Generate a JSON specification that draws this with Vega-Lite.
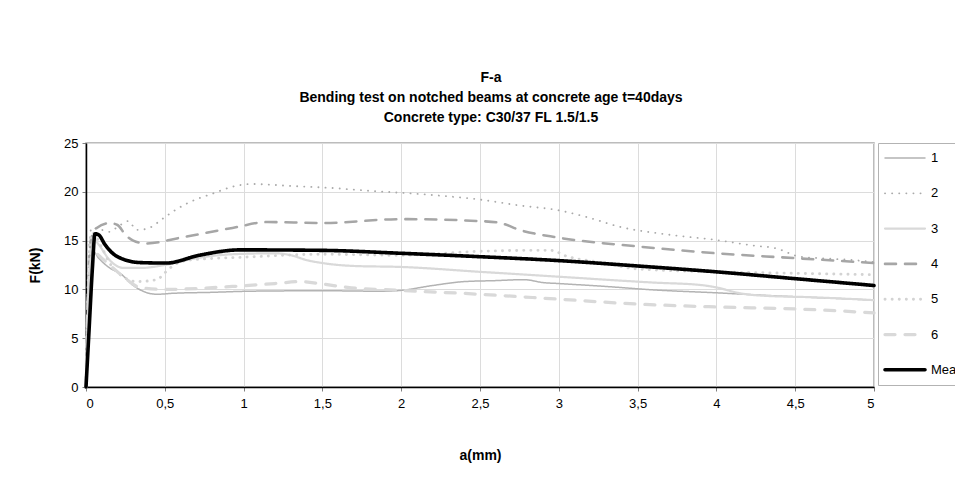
{
  "$schema": "https://vega.github.io/schema/vega-lite/v6.json",
  "width": 788,
  "height": 244,
  "autosize": {"type": "none"},
  "padding": {"left": 86, "top": 143, "right": 81, "bottom": 100},
  "background": "white",
  "title": {
    "text": ["F-a", "Bending test on notched beams at concrete age t=40days", "Concrete type: C30/37 FL 1.5/1.5"],
    "font": "Liberation Sans", "fontSize": 14, "fontWeight": "bold", "color": "black",
    "lineHeight": 20, "anchor": "middle", "frame": "group", "offset": 12, "dx": 11
  },
  "config": {
    "view": {"stroke": "#a6a6a6", "strokeWidth": 1.5},
    "font": "Liberation Sans",
    "axis": {
      "labelFont": "Liberation Sans", "labelFontSize": 13, "labelColor": "black",
      "titleFont": "Liberation Sans", "titleFontSize": 14, "titleFontWeight": "bold", "titleColor": "black",
      "gridColor": "#dcdcdc", "gridWidth": 1, "domainColor": "black", "domainWidth": 1.5,
      "tickColor": "#808080", "tickSize": 4
    }
  },
  "data": {
    "values": [
      {"s": "1", "a": 0, "F": 0}, {"s": "1", "a": 0.01, "F": 6}, {"s": "1", "a": 0.025, "F": 12}, {"s": "1", "a": 0.04, "F": 14}, {"s": "1", "a": 0.08, "F": 13.2}, {"s": "1", "a": 0.15, "F": 12.2}, {"s": "1", "a": 0.22, "F": 11.6}, {"s": "1", "a": 0.3, "F": 10.4}, {"s": "1", "a": 0.38, "F": 9.7}, {"s": "1", "a": 0.45, "F": 9.5}, {"s": "1", "a": 0.55, "F": 9.6}, {"s": "1", "a": 0.8, "F": 9.7}, {"s": "1", "a": 1.0, "F": 9.8}, {"s": "1", "a": 1.3, "F": 9.85}, {"s": "1", "a": 1.6, "F": 9.85}, {"s": "1", "a": 1.9, "F": 9.8}, {"s": "1", "a": 2.0, "F": 9.9}, {"s": "1", "a": 2.2, "F": 10.4}, {"s": "1", "a": 2.4, "F": 10.8}, {"s": "1", "a": 2.6, "F": 10.9}, {"s": "1", "a": 2.78, "F": 11.0}, {"s": "1", "a": 2.9, "F": 10.7}, {"s": "1", "a": 3.0, "F": 10.6}, {"s": "1", "a": 3.3, "F": 10.3}, {"s": "1", "a": 3.6, "F": 9.95}, {"s": "1", "a": 4.0, "F": 9.65}, {"s": "1", "a": 4.3, "F": 9.4}, {"s": "1", "a": 4.5, "F": 9.25}, {"s": "1", "a": 4.8, "F": 9.05}, {"s": "1", "a": 5.0, "F": 8.9},

      {"s": "2", "a": 0, "F": 0}, {"s": "2", "a": 0.01, "F": 8}, {"s": "2", "a": 0.02, "F": 14}, {"s": "2", "a": 0.035, "F": 16.3}, {"s": "2", "a": 0.1, "F": 16.1}, {"s": "2", "a": 0.15, "F": 15.9}, {"s": "2", "a": 0.2, "F": 16.4}, {"s": "2", "a": 0.27, "F": 17.0}, {"s": "2", "a": 0.32, "F": 16.1}, {"s": "2", "a": 0.385, "F": 16.2}, {"s": "2", "a": 0.45, "F": 16.8}, {"s": "2", "a": 0.5, "F": 17.4}, {"s": "2", "a": 0.64, "F": 18.8}, {"s": "2", "a": 0.8, "F": 19.8}, {"s": "2", "a": 0.95, "F": 20.6}, {"s": "2", "a": 1.05, "F": 20.8}, {"s": "2", "a": 1.3, "F": 20.6}, {"s": "2", "a": 1.55, "F": 20.4}, {"s": "2", "a": 1.8, "F": 20.1}, {"s": "2", "a": 2.0, "F": 19.9}, {"s": "2", "a": 2.25, "F": 19.6}, {"s": "2", "a": 2.5, "F": 19.2}, {"s": "2", "a": 2.75, "F": 18.6}, {"s": "2", "a": 3.0, "F": 18.1}, {"s": "2", "a": 3.18, "F": 17.4}, {"s": "2", "a": 3.39, "F": 16.4}, {"s": "2", "a": 3.7, "F": 15.6}, {"s": "2", "a": 4.0, "F": 15.06}, {"s": "2", "a": 4.23, "F": 14.5}, {"s": "2", "a": 4.38, "F": 14.2}, {"s": "2", "a": 4.53, "F": 13.35}, {"s": "2", "a": 4.66, "F": 13.2}, {"s": "2", "a": 4.87, "F": 13.0}, {"s": "2", "a": 5.0, "F": 12.8},

      {"s": "3", "a": 0, "F": 0}, {"s": "3", "a": 0.01, "F": 7}, {"s": "3", "a": 0.025, "F": 13}, {"s": "3", "a": 0.04, "F": 15.3}, {"s": "3", "a": 0.08, "F": 14.6}, {"s": "3", "a": 0.15, "F": 13.0}, {"s": "3", "a": 0.24, "F": 12.2}, {"s": "3", "a": 0.35, "F": 12.2}, {"s": "3", "a": 0.5, "F": 12.5}, {"s": "3", "a": 0.7, "F": 13.2}, {"s": "3", "a": 0.93, "F": 13.6}, {"s": "3", "a": 1.2, "F": 13.7}, {"s": "3", "a": 1.3, "F": 13.5}, {"s": "3", "a": 1.4, "F": 13.0}, {"s": "3", "a": 1.5, "F": 12.7}, {"s": "3", "a": 1.7, "F": 12.4}, {"s": "3", "a": 2.0, "F": 12.3}, {"s": "3", "a": 2.5, "F": 11.8}, {"s": "3", "a": 3.0, "F": 11.3}, {"s": "3", "a": 3.39, "F": 10.9}, {"s": "3", "a": 3.6, "F": 10.7}, {"s": "3", "a": 3.9, "F": 10.45}, {"s": "3", "a": 4.0, "F": 10.2}, {"s": "3", "a": 4.15, "F": 9.6}, {"s": "3", "a": 4.3, "F": 9.35}, {"s": "3", "a": 4.6, "F": 9.2}, {"s": "3", "a": 5.0, "F": 8.9},

      {"s": "4", "a": 0, "F": 0}, {"s": "4", "a": 0.01, "F": 8}, {"s": "4", "a": 0.03, "F": 15}, {"s": "4", "a": 0.068, "F": 16.3}, {"s": "4", "a": 0.15, "F": 16.8}, {"s": "4", "a": 0.2, "F": 16.6}, {"s": "4", "a": 0.25, "F": 15.6}, {"s": "4", "a": 0.3, "F": 15.0}, {"s": "4", "a": 0.38, "F": 14.7}, {"s": "4", "a": 0.6, "F": 15.3}, {"s": "4", "a": 0.93, "F": 16.3}, {"s": "4", "a": 1.15, "F": 16.9}, {"s": "4", "a": 1.5, "F": 16.8}, {"s": "4", "a": 2.0, "F": 17.2}, {"s": "4", "a": 2.5, "F": 17.0}, {"s": "4", "a": 2.63, "F": 16.8}, {"s": "4", "a": 2.75, "F": 16.1}, {"s": "4", "a": 3.0, "F": 15.3}, {"s": "4", "a": 3.5, "F": 14.4}, {"s": "4", "a": 4.0, "F": 13.7}, {"s": "4", "a": 4.5, "F": 13.2}, {"s": "4", "a": 5.0, "F": 12.7},

      {"s": "5", "a": 0, "F": 0}, {"s": "5", "a": 0.01, "F": 8}, {"s": "5", "a": 0.02, "F": 14}, {"s": "5", "a": 0.04, "F": 15.8}, {"s": "5", "a": 0.1, "F": 14.3}, {"s": "5", "a": 0.15, "F": 12.7}, {"s": "5", "a": 0.235, "F": 11.3}, {"s": "5", "a": 0.32, "F": 10.8}, {"s": "5", "a": 0.45, "F": 11.0}, {"s": "5", "a": 0.5, "F": 11.7}, {"s": "5", "a": 0.55, "F": 12.4}, {"s": "5", "a": 0.65, "F": 13.0}, {"s": "5", "a": 1.0, "F": 13.3}, {"s": "5", "a": 1.5, "F": 13.6}, {"s": "5", "a": 2.0, "F": 13.5}, {"s": "5", "a": 2.5, "F": 13.9}, {"s": "5", "a": 2.8, "F": 14.0}, {"s": "5", "a": 2.95, "F": 14.0}, {"s": "5", "a": 3.05, "F": 13.4}, {"s": "5", "a": 3.25, "F": 12.8}, {"s": "5", "a": 3.5, "F": 12.1}, {"s": "5", "a": 4.0, "F": 11.8}, {"s": "5", "a": 4.5, "F": 11.65}, {"s": "5", "a": 5.0, "F": 11.5},

      {"s": "6", "a": 0, "F": 0}, {"s": "6", "a": 0.01, "F": 7}, {"s": "6", "a": 0.025, "F": 12}, {"s": "6", "a": 0.05, "F": 13.8}, {"s": "6", "a": 0.1, "F": 13.2}, {"s": "6", "a": 0.15, "F": 12.5}, {"s": "6", "a": 0.26, "F": 11.0}, {"s": "6", "a": 0.34, "F": 10.2}, {"s": "6", "a": 0.5, "F": 10.0}, {"s": "6", "a": 0.93, "F": 10.3}, {"s": "6", "a": 1.2, "F": 10.6}, {"s": "6", "a": 1.36, "F": 10.8}, {"s": "6", "a": 1.5, "F": 10.55}, {"s": "6", "a": 1.66, "F": 10.2}, {"s": "6", "a": 2.0, "F": 9.9}, {"s": "6", "a": 2.5, "F": 9.5}, {"s": "6", "a": 3.0, "F": 9.0}, {"s": "6", "a": 3.5, "F": 8.5}, {"s": "6", "a": 4.0, "F": 8.2}, {"s": "6", "a": 4.5, "F": 8.0}, {"s": "6", "a": 5.0, "F": 7.6},

      {"s": "Mean", "a": 0, "F": 0}, {"s": "Mean", "a": 0.02, "F": 6}, {"s": "Mean", "a": 0.04, "F": 12}, {"s": "Mean", "a": 0.057, "F": 15.7}, {"s": "Mean", "a": 0.08, "F": 15.6}, {"s": "Mean", "a": 0.12, "F": 14.6}, {"s": "Mean", "a": 0.195, "F": 13.4}, {"s": "Mean", "a": 0.34, "F": 12.75}, {"s": "Mean", "a": 0.51, "F": 12.7}, {"s": "Mean", "a": 0.72, "F": 13.5}, {"s": "Mean", "a": 0.98, "F": 14.05}, {"s": "Mean", "a": 1.5, "F": 14.0}, {"s": "Mean", "a": 2.0, "F": 13.7}, {"s": "Mean", "a": 2.5, "F": 13.35}, {"s": "Mean", "a": 3.0, "F": 12.95}, {"s": "Mean", "a": 3.5, "F": 12.4}, {"s": "Mean", "a": 4.0, "F": 11.8}, {"s": "Mean", "a": 4.5, "F": 11.1}, {"s": "Mean", "a": 5.0, "F": 10.4}
    ]
  },
  "mark": {"type": "line", "interpolate": "monotone", "strokeCap": "round", "strokeJoin": "round"},
  "encoding": {
    "x": {
      "field": "a", "type": "quantitative", "title": "a(mm)",
      "scale": {"domain": [0, 5], "nice": false},
      "axis": {"values": [0, 0.5, 1, 1.5, 2, 2.5, 3, 3.5, 4, 4.5, 5], "labelExpr": "replace(format(datum.value, '~g'), '.', ',')", "titlePadding": 38, "labelPadding": 6}
    },
    "y": {
      "field": "F", "type": "quantitative", "title": "F(kN)",
      "scale": {"domain": [0, 25], "nice": false},
      "axis": {"values": [0, 5, 10, 15, 20, 25], "titlePadding": 21, "labelPadding": 4}
    },
    "color": {
      "field": "s", "type": "ordinal",
      "scale": {"domain": ["1", "2", "3", "4", "5", "6", "Mean"], "range": ["#b3b3b3", "#aaaaaa", "#d9d9d9", "#a6a6a6", "#d3d3d3", "#d9d9d9", "#000000"]},
      "legend": {
        "orient": "none", "legendX": 792, "legendY": 0, "title": null,
        "strokeColor": "#b3b3b3", "fillColor": "white", "padding": 5,
        "symbolType": "stroke", "symbolSize": 1600, "labelFontSize": 13, "labelFont": "Liberation Sans", "labelColor": "black",
        "labelOffset": 4, "rowPadding": 15.3, "clipHeight": 20, "labelLimit": 200,
        "encode": {"symbols": {"update": {"strokeCap": {"value": "round"}}}}
      }
    },
    "strokeDash": {
      "field": "s", "type": "ordinal",
      "scale": {"domain": ["1", "2", "3", "4", "5", "6", "Mean"], "range": [[1, 0], [0.1, 7], [1, 0], [11, 9], [0.1, 7], [10, 10], [1, 0]]}
    },
    "strokeWidth": {
      "field": "s", "type": "ordinal",
      "scale": {"domain": ["1", "2", "3", "4", "5", "6", "Mean"], "range": [1.5, 3.6, 4.5, 3.2, 3.6, 3.2, 4]}
    }
  }
}
